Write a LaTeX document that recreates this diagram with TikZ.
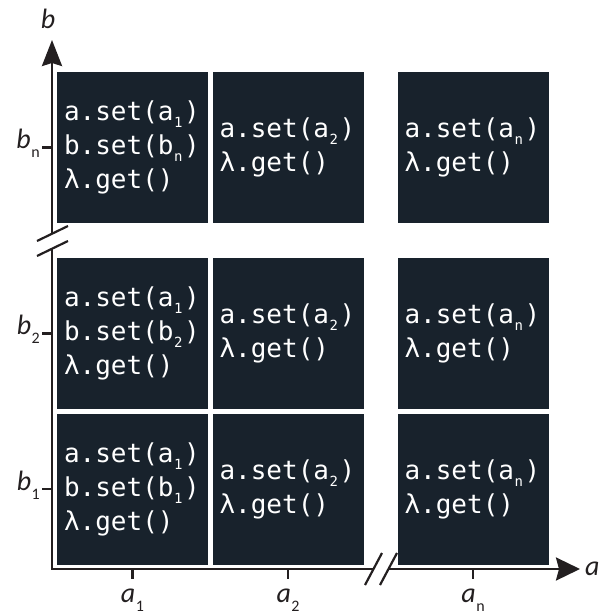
\documentclass[tikz,border=0pt]{standalone}
\usepackage{fontspec}
\setmonofont{DejaVu Sans Mono}
\newfontfamily\axefont{Carlito}
\usepackage{tikz}
\usetikzlibrary{arrows.meta}

\definecolor{ardoise}{HTML}{18222C}
\definecolor{trait}{HTML}{231F20}

% indice dans le code
\newcommand{\ind}[1]{\kern0.5pt\raisebox{-7pt}{\fontsize{14}{14}\selectfont #1}\kern1.5pt}
% etiquette d'axe avec indice
\newcommand{\lab}[2]{{\itshape #1}\kern0.5pt\raisebox{-9pt}{\fontsize{16}{16}\selectfont #2}}

\tikzset{
  cellule/.style={fill=ardoise, text=white, minimum width=151pt, minimum height=151pt,
    inner xsep=7pt, inner ysep=0pt, text width=137pt, align=left,
    font=\ttfamily\fontsize{26}{34}\selectfont},
  axe/.style={draw=trait, line width=2.6pt},
  coupure/.style={draw=trait, line width=2.2pt},
  etiq/.style={text=trait, font=\axefont\fontsize{28}{28}\selectfont, inner sep=0pt}
}

\begin{document}
\begin{tikzpicture}[x=1pt, y=-1pt]

\useasboundingbox (0,0) rectangle (601,615);

% Rangee du haut - b_n
\node[cellule] (cn1) at (132.5,147.5) {a.set(a\ind{1})\\b.set(b\ind{n})\\λ.get()};
\node[cellule] (cn2) at (288,147.5) {a.set(a\ind{2})\\λ.get()};
\node[cellule] (cnn) at (473,147.5) {a.set(a\ind{n})\\λ.get()};

% Rangee du milieu - b_2
\node[cellule] (c21) at (132.5,333.5) {a.set(a\ind{1})\\b.set(b\ind{2})\\λ.get()};
\node[cellule] (c22) at (288,333.5) {a.set(a\ind{2})\\λ.get()};
\node[cellule] (c2n) at (473,333.5) {a.set(a\ind{n})\\λ.get()};

% Rangee du bas - b_1
\node[cellule] (c11) at (132.5,489) {a.set(a\ind{1})\\b.set(b\ind{1})\\λ.get()};
\node[cellule] (c12) at (288,489) {a.set(a\ind{2})\\λ.get()};
\node[cellule] (c1n) at (473,489) {a.set(a\ind{n})\\λ.get()};

% Origine
\coordinate (O) at (52,569);

% Axes (coupes)
\draw[axe] (52,249) -- (O) -- (373.5,569);
\draw[axe, -{Stealth[length=26pt, width=20pt, inset=3pt]}] (52,234) -- (52,40);
\draw[axe, -{Stealth[length=24pt, width=23pt, inset=3pt]}] (388.5,569) -- (580,569);

% Traits de coupure
\draw[coupure] (37,241) -- (68,226);
\draw[coupure] (37,256) -- (68,241);
\draw[coupure] (365,585) -- (382,553);
\draw[coupure] (380,585) -- (397,553);

% Graduations
\draw[axe] (42,147.5) -- (52,147.5);
\draw[axe] (42,333.5) -- (52,333.5);
\draw[axe] (42,489) -- (52,489);
\draw[axe] (132.5,569) -- (132.5,579);
\draw[axe] (288,569) -- (288,579);
\draw[axe] (473,569) -- (473,579);

% Noms des axes
\node[etiq] (nb) at (48,19) {\itshape b};
\node[etiq, anchor=base west] (na) at (585,575) {\itshape a};

% Etiquettes des graduations
\node[etiq, anchor=base east] (bn) at (40,148.5) {\lab{b}{n}};
\node[etiq, anchor=base east] (b2) at (40,334.5) {\lab{b}{2}};
\node[etiq, anchor=base east] (b1) at (40,490) {\lab{b}{1}};
\node[etiq, anchor=base] (a1) at (132.5,602) {\lab{a}{1}};
\node[etiq, anchor=base] (a2) at (288,602) {\lab{a}{2}};
\node[etiq, anchor=base] (an) at (473,602) {\lab{a}{n}};

\end{tikzpicture}
\end{document}
